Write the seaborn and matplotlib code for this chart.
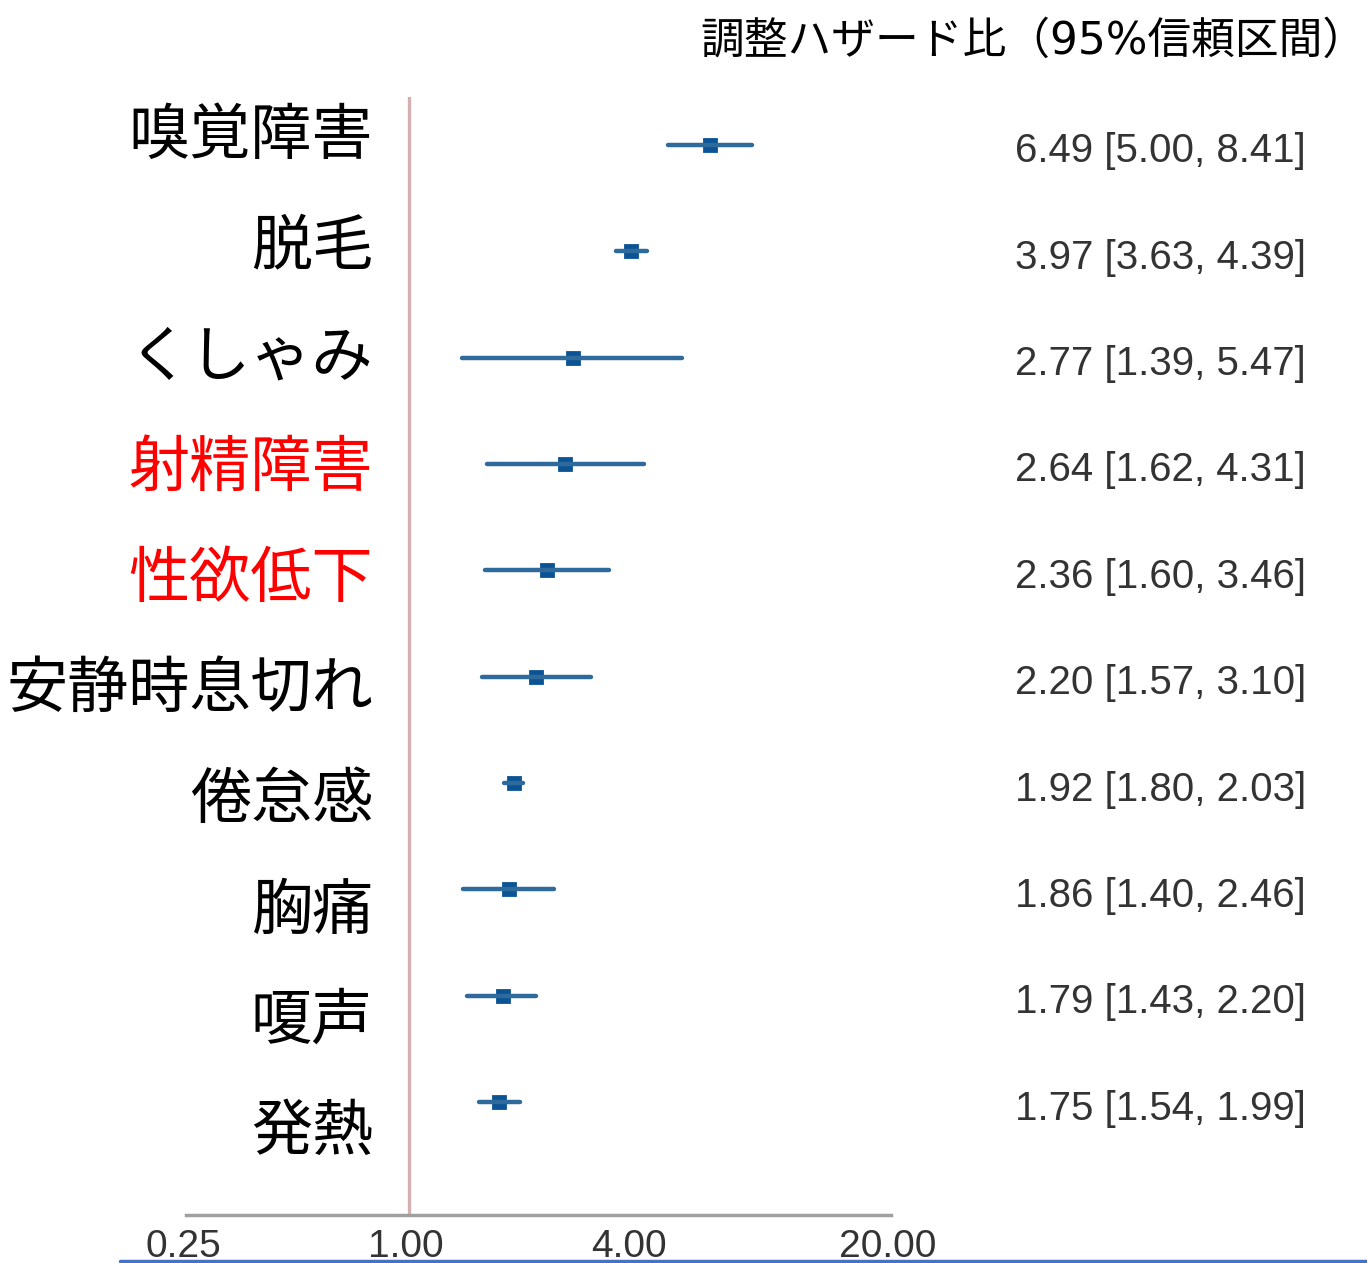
import numpy as np
import pandas as pd
import matplotlib
matplotlib.use('Agg')
import matplotlib.pyplot as plt
import matplotlib.transforms as mtransforms
import seaborn as sns

symptoms = ['嗅覚障害', '脱毛', 'くしゃみ', '射精障害', '性欲低下',
            '安静時息切れ', '倦怠感', '胸痛', '嗄声', '発熱']
hr = [6.49, 3.97, 2.77, 2.64, 2.36, 2.20, 1.92, 1.86, 1.79, 1.75]
ci_low = [5.00, 3.63, 1.39, 1.62, 1.60, 1.57, 1.80, 1.40, 1.43, 1.54]
ci_high = [8.41, 4.39, 5.47, 4.31, 3.46, 3.10, 2.03, 2.46, 2.20, 1.99]
highlight = ['射精障害', '性欲低下']
xticks = [0.25, 1.00, 4.00, 20.00]
title = '調整ハザード比（95%信頼区間）'

sns.set_style('white')
plt.rcParams['font.family'] = ['Noto Sans CJK JP', 'DejaVu Sans']

W, H = 1367, 1263
fig = plt.figure(figsize=(W / 100, H / 100), dpi=100)

# main forest axes (pixel geometry)
left, right, top, bottom = 186, 891, 97, 1215
ax = fig.add_axes([left / W, 1 - bottom / H, (right - left) / W, (bottom - top) / H])
ax.set_xscale('log')

# long form: each symptom has low / hr / high, median = hr, min/max = CI
long_df = pd.DataFrame({
    'symptom': np.repeat(symptoms, 3),
    'value': np.column_stack([ci_low, hr, ci_high]).ravel(),
})

ax.axvline(1.0, color='#d5b0b0', lw=2.4, zorder=1)

sns.pointplot(data=long_df, x='value', y='symptom', order=symptoms,
              estimator=np.median, errorbar=lambda v: (v.min(), v.max()),
              linestyle='none', marker='s', markersize=8, color='#0b5394',
              err_kws={'color': '#2e6a9b', 'linewidth': 3.2}, capsize=0, ax=ax)
for c in ax.collections:
    c.set_zorder(5)

ax.set_xlim(0.25, 20)
ax.set_ylim(10.06, -0.45)
ax.set_xticks(xticks)
ax.set_xticklabels([f'{t:.2f}' for t in xticks], fontsize=28, color='#333333',
                   family=['Liberation Sans', 'DejaVu Sans'])
ax.xaxis.set_minor_locator(matplotlib.ticker.NullLocator())
ax.tick_params(axis='x', length=0, pad=10)
for t in ax.get_xticklabels():
    t.set_transform(t.get_transform() + mtransforms.Affine2D().translate(-3, 0))
ax.set_yticks([])
ax.set_xlabel('')
ax.set_ylabel('')
for s in ['top', 'right', 'left']:
    ax.spines[s].set_visible(False)
ax.spines['bottom'].set_color('#a0a0a0')
ax.spines['bottom'].set_linewidth(2.5)

# estimate text on the right, aligned with rows
trans = mtransforms.blended_transform_factory(fig.transFigure, ax.transData)
for i, (h, lo, hi) in enumerate(zip(hr, ci_low, ci_high)):
    ax.text(1015 / W, i + 0.06, f'{h:.2f} [{lo:.2f}, {hi:.2f}]', transform=trans,
            ha='left', va='center', fontsize=29, color='#333333',
            family=['Liberation Sans', 'DejaVu Sans'], clip_on=False)

# symptom labels, own spacing
p0, step = 137, 110.6
lab = fig.add_axes([0, 0, 373 / W, 1])
lab.axis('off')
lab.set_xlim(0, 1)
lab.set_ylim((H - p0) / step, -p0 / step)
for i, name in enumerate(symptoms):
    lab.text(1.0, i, name, ha='right', va='center', fontsize=44,
             color='#ff0000' if name in highlight else '#000000')

fig.text(700 / W, 1 - 41 / H, title, ha='left', va='center', fontsize=31.5,
         color='#000000', family=['DejaVu Sans', 'Noto Sans CJK JP'])

# blue rule at the bottom
fig.add_artist(matplotlib.lines.Line2D([120 / W, 1.0], [1 - 1261 / H, 1 - 1261 / H],
                                       color='#4472c4', lw=2.5, transform=fig.transFigure))

fig.savefig('out.png', dpi=100)
